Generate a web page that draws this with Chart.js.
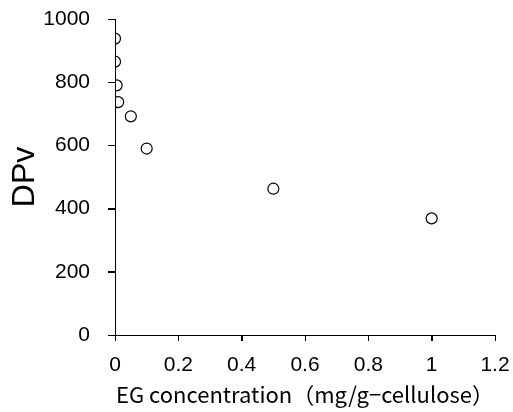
<!DOCTYPE html>
<html>
<head>
<meta charset="utf-8">
<script src="https://cdn.jsdelivr.net/npm/chart.js@4.4.1/dist/chart.umd.min.js"></script>
<style>
  html, body { margin: 0; padding: 0; background: #fff; }
  #wrap { width: 513px; height: 412px; }
</style>
</head>
<body>
<div id="wrap"><canvas id="chart" width="513" height="412"></canvas></div>
<script>
// EG concentration (mg/g-cellulose) vs DPv
const egConc = [0, 0, 0.005, 0.01, 0.05, 0.1, 0.5, 1];
const dpv = [938, 865, 790, 737, 692, 590, 463, 369];
const xTickLabels = ['0', '0.2', '0.4', '0.6', '0.8', '1', '1.2'];
const yTickLabels = ['0', '200', '400', '600', '800', '1000'];

const points = egConc.map((x, i) => ({ x: x, y: dpv[i] }));

const tickFont = { family: 'Liberation Sans, Arial, sans-serif', size: 21 };

// outward tick marks drawn by hand at the scale's own tick positions
const tickMarks = {
    id: 'tickMarks',
    afterDraw(chart) {
        const c = chart.ctx;
        const xs = chart.scales.x;
        const ys = chart.scales.y;
        c.save();
        c.strokeStyle = '#000';
        c.lineWidth = 1;
        c.beginPath();
        xs.ticks.forEach((t) => {
            const px = Math.round(xs.getPixelForValue(t.value)) + 0.5;
            c.moveTo(px, xs.top);
            c.lineTo(px, xs.top + 6);
        });
        ys.ticks.forEach((t) => {
            const py = Math.round(ys.getPixelForValue(t.value)) + 0.5;
            c.moveTo(ys.right - 7, py);
            c.lineTo(ys.right, py);
        });
        c.stroke();
        c.restore();
    },
};

const ctx = document.getElementById('chart').getContext('2d');
const chart = new Chart(ctx, {
    type: 'scatter',
    data: {
        datasets: [
            {
                label: 'DPv',
                data: points,
                pointStyle: 'circle',
                pointRadius: 5.5,
                pointBorderWidth: 1.2,
                borderColor: '#000',
                backgroundColor: 'rgba(255,255,255,0)',
            },
        ],
    },
    options: {
        responsive: false,
        animation: false,
        layout: { padding: { top: 19, right: 18, left: 0, bottom: 0 } },
        plugins: {
            legend: { display: false },
            tooltip: { enabled: false },
        },
        scales: {
            x: {
                type: 'linear',
                min: 0,
                max: 1.2,
                afterBuildTicks: (scale) => {
                    scale.ticks = xTickLabels.map((t) => ({ value: parseFloat(t) }));
                },
                afterFit: (scale) => {
                    // fixed axis box, no extra room for edge labels
                    scale.height = 77;
                    scale.paddingLeft = 0;
                    scale.paddingRight = 0;
                },
                ticks: {
                    color: '#000',
                    font: tickFont,
                    padding: 12,
                    maxRotation: 0,
                    autoSkip: false,
                    callback: (v, i) => xTickLabels[i],
                },
                grid: {
                    drawOnChartArea: false,
                    drawTicks: true,
                    tickLength: 6,
                    color: '#000',
                    tickColor: '#000',
                    tickWidth: 1,
                },
                border: { display: true, color: '#000', width: 1 },
                title: {
                    display: true,
                    text: 'EG concentration（mg/g−cellulose）',
                    color: '#000',
                    font: { family: 'Noto Sans CJK JP', size: 22 },
                    padding: { top: 2 },
                },
            },
            y: {
                type: 'linear',
                min: 0,
                max: 1000,
                afterBuildTicks: (scale) => {
                    scale.ticks = yTickLabels.map((t) => ({ value: parseFloat(t) }));
                },
                afterFit: (scale) => {
                    scale.width = 115;
                    scale.paddingTop = 0;
                    scale.paddingBottom = 0;
                },
                ticks: {
                    color: '#000',
                    font: tickFont,
                    padding: 18,
                    autoSkip: false,
                    callback: (v, i) => yTickLabels[i],
                },
                grid: {
                    drawOnChartArea: false,
                    drawTicks: true,
                    tickLength: 7,
                    color: '#000',
                    tickColor: '#000',
                    tickWidth: 1,
                },
                border: { display: true, color: '#000', width: 1 },
                title: {
                    display: true,
                    text: 'DPv',
                    color: '#000',
                    font: { family: 'Liberation Sans, Arial, sans-serif', size: 32 },
                    padding: { top: 6, bottom: 0 },
                },
            },
        },
    },
    plugins: [tickMarks],
});
</script>
</body>
</html>
